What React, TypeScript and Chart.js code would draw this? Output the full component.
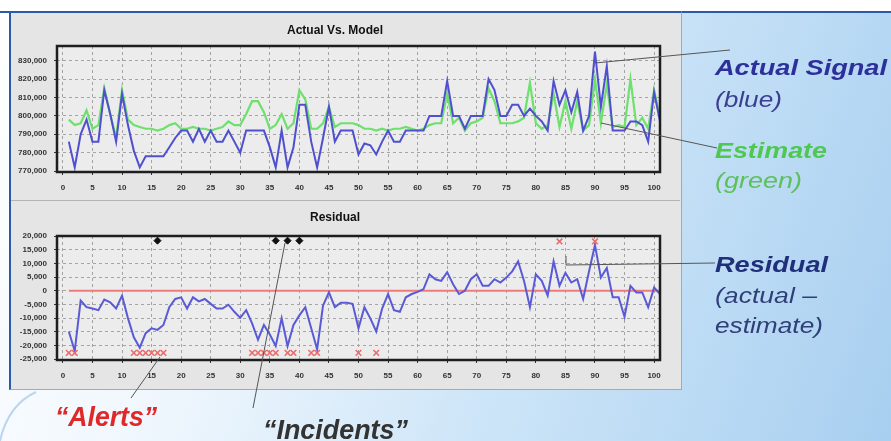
import React, { useEffect, useRef } from "react";
import { Chart, registerables } from "chart.js";

Chart.register(...registerables);

// ---------- data ----------
const xTickValues = [0, 5, 10, 15, 20, 25, 30, 35, 40, 45, 50, 55, 60, 65, 70, 75, 80, 85, 90, 95, 100];
const topYTicks = [770000, 780000, 790000, 800000, 810000, 820000, 830000];
const residualYTicks = [-25000, -20000, -15000, -10000, -5000, 0, 5000, 10000, 15000, 20000];

const actualSignal = [
  786000, 772000, 790000, 798000, 786000, 786000, 814000, 801000, 786000, 812000,
  795000, 781000, 772000, 778000, 778000, 778000, 778000, 783000, 788000, 792000,
  792000, 786000, 793000, 786000, 792000, 786000, 786000, 792000, 786000, 780000,
  792000, 792000, 792000, 792000, 783000, 772000, 792000, 772000, 783000, 806000,
  806000, 786000, 772000, 788000, 805000, 786000, 792000, 792000, 792000, 779000,
  785000, 784000, 779000, 786000, 792000, 786000, 786000, 792000, 792000, 792000,
  792000, 800000, 800000, 800000, 819000, 800000, 800000, 793000, 800000, 800000,
  800000, 820000, 814000, 800000, 800000, 806000, 806000, 800000, 804000, 800000,
  797000, 792000, 819000, 806000, 814000, 802000, 813000, 792000, 800000, 835000,
  805000, 827000, 792000, 792000, 792000, 797000, 797000, 795000, 786000, 813000,
  797000,
];

const estimate = [
  798000, 795000, 796000, 803000, 793000, 795000, 815000, 801000, 788000, 814000,
  798000, 795000, 794000, 793000, 793000, 792000, 793000, 795000, 796000, 793000,
  793000, 794000, 793000, 793000, 792000, 793000, 794000, 797000, 795000, 795000,
  801000, 808000, 808000, 802000, 793000, 795000, 801000, 793000, 796000, 814000,
  809000, 793000, 793000, 796000, 805000, 794000, 796000, 796000, 796000, 795000,
  793000, 793000, 792000, 793000, 792000, 793000, 793000, 794000, 793000, 792000,
  793000, 795000, 796000, 796000, 812000, 796000, 799000, 792000, 796000, 797000,
  799000, 815000, 808000, 796000, 796000, 796000, 797000, 799000, 818000, 796000,
  793000, 795000, 812000, 794000, 808000, 793000, 808000, 792000, 795000, 820000,
  796000, 817000, 794000, 795000, 794000, 820000, 795000, 799000, 793000, 814000,
  799000,
];

const residual = [
  -14900, -22000, -3600, -6000, -6500, -7100, -3200, -4200, -6500, -1800,
  -10000, -17000, -20800, -15500, -13700, -14300, -12500, -6000, -3000, -2400,
  -6500, -2400, -3900, -3000, -4800, -6500, -6500, -5100, -7700, -9900,
  -7100, -11900, -17900, -12500, -16000, -20200, -10100, -20200, -12500, -9000,
  -6000, -13700, -21400, -5400, -600, -6000, -4400, -4400, -4800, -13700,
  -6000, -10100, -14900, -6500, -1200, -7100, -7700, -2400, -1200, -400,
  600, 6000, 4200, 3600, 6800, 2400, -1200, 0, 4200, 6000,
  1800, 1800, 4200, 3000, 4800, 7100, 10700, 3600, -6000, 6000,
  3600, -1800, 10700, 1800, 6500, 3000, 4200, -3000, 7100, 16700,
  4800, 8300, -2400, -2400, -9500, 1800, -600, -600, -6000, 1200,
  -1200,
];

const zeroLineX = [1, 101];
const zeroLineY = [0, 0];

const alertX = [1, 2, 12, 13, 14, 15, 16, 17, 32, 33, 34, 35, 36, 38, 39, 42, 43, 50, 53, 84, 90];
const alertY = [
  -22700, -22700, -22700, -22700, -22700, -22700, -22700, -22700, -22700, -22700,
  -22700, -22700, -22700, -22700, -22700, -22700, -22700, -22700, -22700, 18000, 18000,
];

const incidentX = [16, 36, 38, 40];
const incidentY = [18300, 18300, 18300, 18300];

// ---------- helpers ----------
const FONT = "'Liberation Sans', Arial, sans-serif";
const toPoints = (vals: number[]) => vals.map((v, i) => ({ x: i + 1, y: v }));
const pairPoints = (xs: number[], ys: number[]) => xs.map((x, i) => ({ x, y: ys[i] }));

const framePlugin = {
  id: "frame",
  beforeDraw(chart: any) {
    const { ctx, chartArea: a } = chart;
    ctx.save();
    ctx.fillStyle = "#ececec";
    ctx.fillRect(a.left, a.top, a.right - a.left, a.bottom - a.top);
    ctx.restore();
  },
  afterDraw(chart: any) {
    const { ctx, chartArea: a } = chart;
    ctx.save();
    ctx.strokeStyle = "#1e1e1e";
    ctx.lineWidth = 2.5;
    ctx.strokeRect(a.left, a.top, a.right - a.left, a.bottom - a.top);
    ctx.restore();
  },
};

function xScale(axisHeight: number) {
  return {
    type: "linear",
    min: -1,
    max: 101,
    afterBuildTicks: (s: any) => {
      s.ticks = xTickValues.map((v) => ({ value: v }));
    },
    afterFit: (s: any) => {
      s.height = axisHeight;
    },
    grid: { color: "#a4a4a4", lineWidth: 1, drawTicks: true, tickLength: 3, tickColor: "#333" },
    border: { display: false, dash: [3, 3] },
    ticks: {
      padding: 8,
      color: "#333",
      autoSkip: false,
      maxRotation: 0,
      font: { size: 8, weight: "bold", family: FONT },
    },
  };
}

function yScale(min: number, max: number, ticks: number[]) {
  return {
    type: "linear",
    min,
    max,
    afterBuildTicks: (s: any) => {
      s.ticks = ticks.map((v) => ({ value: v }));
    },
    afterFit: (s: any) => {
      s.width = 47;
    },
    grid: { color: "#a4a4a4", lineWidth: 1, drawTicks: true, tickLength: 3, tickColor: "#333" },
    border: { display: false, dash: [3, 3] },
    ticks: {
      padding: 7,
      color: "#333",
      autoSkip: false,
      font: { size: 8, weight: "bold", family: FONT },
      callback: (v: any) => Number(v).toLocaleString("en-US"),
    },
  };
}

function baseOptions(title: string, titlePad: { top: number; bottom: number }, xAxisH: number, y: any) {
  return {
    responsive: false,
    maintainAspectRatio: false,
    animation: false,
    devicePixelRatio: 1,
    events: [],
    layout: { padding: { top: 0, right: 20, left: 0, bottom: 0 } },
    elements: { line: { tension: 0 }, point: { radius: 0 } },
    plugins: {
      legend: { display: false },
      tooltip: { enabled: false },
      title: {
        display: true,
        text: title,
        color: "#111",
        font: { size: 12, weight: "bold", family: FONT },
        padding: titlePad,
      },
    },
    scales: { x: xScale(xAxisH), y },
  };
}

function topConfig(): any {
  return {
    type: "line",
    data: {
      datasets: [
        {
          label: "Actual Signal",
          data: toPoints(actualSignal),
          borderColor: "#4f4fcf",
          borderWidth: 2,
          pointRadius: 0,
          fill: false,
        },
        {
          label: "Estimate",
          data: toPoints(estimate),
          borderColor: "#6ee06e",
          borderWidth: 2.2,
          pointRadius: 0,
          fill: false,
        },
      ],
    },
    options: baseOptions("Actual Vs. Model", { top: 5, bottom: 8.6 }, 28, yScale(769500, 838000, topYTicks)),
    plugins: [framePlugin],
  };
}

function residualConfig(): any {
  return {
    type: "line",
    data: {
      datasets: [
        {
          label: "Incidents",
          data: pairPoints(incidentX, incidentY),
          showLine: false,
          pointStyle: "rectRot",
          pointRadius: 3.5,
          backgroundColor: "#111",
          borderColor: "#111",
          borderWidth: 1,
        },
        {
          label: "Alerts",
          data: pairPoints(alertX, alertY),
          showLine: false,
          pointStyle: "crossRot",
          pointRadius: 4,
          borderColor: "#ee6a6a",
          backgroundColor: "#ee6a6a",
          borderWidth: 1.6,
        },
        {
          label: "Residual",
          data: toPoints(residual),
          borderColor: "#5a5ad6",
          borderWidth: 2,
          pointRadius: 0,
          fill: false,
        },
        {
          label: "Zero",
          data: pairPoints(zeroLineX, zeroLineY),
          borderColor: "#f07a7a",
          borderWidth: 2.2,
          pointRadius: 0,
          fill: false,
        },
      ],
    },
    options: baseOptions("Residual", { top: 6.8, bottom: 10.8 }, 23, yScale(-25300, 20000, residualYTicks)),
    plugins: [framePlugin],
  };
}

function ChartCanvas(props: { make: () => any; left: number; top: number; width: number; height: number }) {
  const ref = useRef<HTMLCanvasElement | null>(null);
  useEffect(() => {
    if (!ref.current) return;
    const chart = new Chart(ref.current, props.make());
    return () => chart.destroy();
  }, []);
  return (
    <canvas
      ref={ref}
      width={props.width}
      height={props.height}
      style={{ position: "absolute", left: props.left, top: props.top, width: props.width, height: props.height }}
    />
  );
}

type Label = { text: string; x: number; y: number; size: number; len: number; color: string; bold?: boolean };
const labels: Label[] = [
  { text: "Actual Signal", x: 715, y: 75, size: 22, len: 172, color: "#2d2f9b", bold: true },
  { text: "(blue)", x: 715, y: 107, size: 22, len: 67, color: "#3a3f8f" },
  { text: "Estimate", x: 715, y: 158, size: 22, len: 112, color: "#4ec84e", bold: true },
  { text: "(green)", x: 715, y: 188, size: 22, len: 87, color: "#5cc05c" },
  { text: "Residual", x: 715, y: 272, size: 22, len: 113, color: "#1f2f7a", bold: true },
  { text: "(actual –", x: 715, y: 303, size: 22, len: 102, color: "#2f3f78" },
  { text: "estimate)", x: 715, y: 333, size: 22, len: 108, color: "#2f3f78" },
  { text: "“Alerts”", x: 55, y: 426, size: 28, len: 102, color: "#e02828", bold: true },
  { text: "“Incidents”", x: 263, y: 439, size: 28, len: 145, color: "#333333", bold: true },
];

export default function App() {
  return (
    <div
      style={{
        position: "absolute",
        left: 0,
        top: 0,
        width: 891,
        height: 441,
        overflow: "hidden",
        background: "#ffffff",
        fontFamily: FONT,
      }}
    >
      <div
        style={{
          position: "absolute",
          left: 0,
          top: 11,
          width: 891,
          height: 430,
          background: "linear-gradient(110deg, #ffffff 0%, #eef6fd 30%, #cde5f8 60%, #a8cff0 100%)",
        }}
      />
      <div style={{ position: "absolute", left: 0, top: 11, width: 891, height: 2, background: "#2a5aa8" }} />
      <div
        style={{
          position: "absolute",
          left: 9,
          top: 11,
          width: 670,
          height: 376,
          background: "#e5e5e5",
          borderLeft: "2px solid #2a5aa8",
          borderTop: "2px solid #2a5aa8",
          borderRight: "1px solid #a9a9a9",
          borderBottom: "1px solid #a9a9a9",
        }}
      />
      <div style={{ position: "absolute", left: 11, top: 200, width: 669, height: 1, background: "#b4b4b4" }} />
      <ChartCanvas make={topConfig} left={10} top={18} width={670} height={182} />
      <ChartCanvas make={residualConfig} left={10} top={204} width={670} height={179} />
      <svg
        width={891}
        height={441}
        style={{ position: "absolute", left: 0, top: 0, pointerEvents: "none" }}
      >
        <path d="M0,441 Q8,405 36,392" stroke="#b9d6f1" strokeWidth={2} fill="none" />
        <g stroke="#555" strokeWidth={1} fill="none">
          <line x1={595} y1={63} x2={730} y2={50} />
          <line x1={601} y1={123} x2={717} y2={148} />
          <polyline points="566,256 566,265 715,263" />
          <line x1={160} y1={357} x2={131} y2={398} />
          <line x1={285} y1={243} x2={253} y2={408} />
        </g>
        {labels.map((l) => (
          <text
            key={l.text}
            x={l.x}
            y={l.y}
            fontSize={l.size}
            fontStyle="italic"
            fontWeight={l.bold ? "bold" : "normal"}
            fill={l.color}
            fontFamily={FONT}
            textLength={l.len}
            lengthAdjust="spacingAndGlyphs"
          >
            {l.text}
          </text>
        ))}
      </svg>
    </div>
  );
}
